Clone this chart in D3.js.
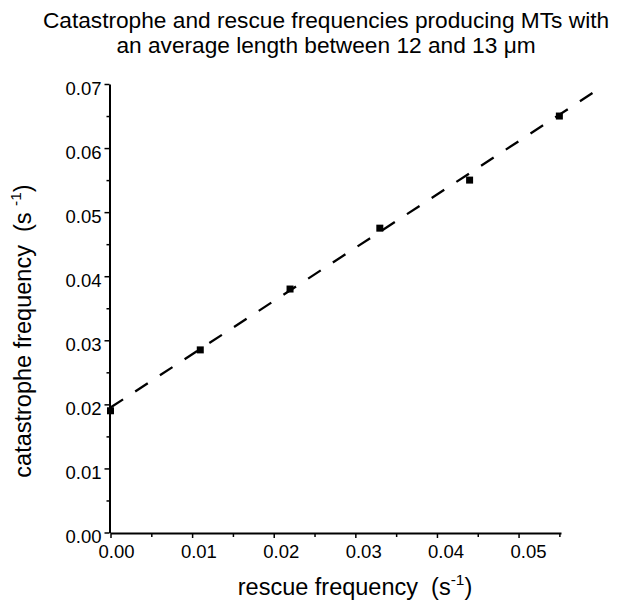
<!DOCTYPE html>
<html>
<head>
<meta charset="utf-8">
<script src="https://cdn.jsdelivr.net/npm/d3@7"></script>
<style>
  body { margin: 0; background: #fff; }
  text { font-family: "Liberation Sans", Arial, Helvetica, sans-serif; fill: #000; }
</style>
</head>
<body>
<svg id="chart" width="624" height="607"></svg>
<script>
// data
const rescue = [0, 0.011, 0.022, 0.033, 0.044, 0.055];
const catastrophe = [0.019, 0.0285, 0.038, 0.0475, 0.055, 0.065];
// dashed fit line end points
const fitRescue = [0, 0.0598];
const fitCatastrophe = [0.0195, 0.0692];

const xTicks = [0, 0.01, 0.02, 0.03, 0.04, 0.05];
const xMinor = [0.005, 0.015, 0.025, 0.035, 0.045, 0.055];
const yTicks = [0, 0.01, 0.02, 0.03, 0.04, 0.05, 0.06, 0.07];
const yMinor = [0.005, 0.015, 0.025, 0.035, 0.045, 0.055, 0.065];

const titleLines = [
  "Catastrophe and rescue frequencies producing MTs with",
  "an average length between 12 and 13 \u03bcm"
];

const svg = d3.select("#chart");

const x = d3.scaleLinear().domain([0, 0.0552]).range([110.5, 561]);
const y = d3.scaleLinear().domain([0, 0.07]).range([532.5, 84]);
// tick labels in the original sit on a slightly wider spacing than the ticks
const xLabel = d3.scaleLinear().domain([0, 0.05]).range([116.5, 528.5]);

// title
svg.append("g")
  .selectAll("text")
  .data(titleLines)
  .join("text")
  .attr("x", 326)
  .attr("y", (d, i) => 28 + i * 25)
  .attr("text-anchor", "middle")
  .attr("font-size", 22.7)
  .text(d => d);

// x axis
svg.append("g")
  .attr("transform", "translate(0,533)")
  .call(d3.axisBottom(x).tickValues(xTicks).tickSize(5).tickSizeOuter(0).tickFormat(""));
svg.append("g")
  .attr("transform", "translate(0,533)")
  .call(d3.axisBottom(x).tickValues(xMinor).tickSize(4).tickSizeOuter(0).tickFormat(""))
  .select(".domain").remove();
svg.append("g")
  .selectAll("text")
  .data(xTicks)
  .join("text")
  .attr("x", d => xLabel(d))
  .attr("y", 558)
  .attr("text-anchor", "middle")
  .attr("font-size", 18.5)
  .text(d => d3.format(".2f")(d));

// y axis
const yAxis = svg.append("g")
  .attr("transform", "translate(109.5,0)")
  .call(d3.axisLeft(y).tickValues(yTicks).tickSize(5).tickSizeOuter(0).tickPadding(3)
    .tickFormat(d3.format(".2f")));
yAxis.selectAll("text")
  .attr("dy", "0.56em")
  .attr("font-size", 18.5)
  .style("font-family", "\"Liberation Sans\", Arial, sans-serif");
svg.append("g")
  .attr("transform", "translate(109.5,0)")
  .call(d3.axisLeft(y).tickValues(yMinor).tickSize(3).tickSizeOuter(0).tickFormat(""))
  .select(".domain").remove();

svg.selectAll(".domain").attr("stroke-width", 2);
svg.selectAll(".tick line").attr("stroke-width", 1.5);

// fit line
svg.append("path")
  .datum(d3.zip(fitRescue, fitCatastrophe))
  .attr("fill", "none")
  .attr("stroke", "#000")
  .attr("stroke-width", 2.3)
  .attr("stroke-dasharray", "15,14.5")
  .attr("d", d3.line().x(d => x(d[0])).y(d => y(d[1])));

// points
const s = 7;
svg.append("g")
  .selectAll("rect")
  .data(d3.zip(rescue, catastrophe))
  .join("rect")
  .attr("x", d => x(d[0]) - s / 2)
  .attr("y", d => y(d[1]) - s / 2)
  .attr("width", s)
  .attr("height", s)
  .attr("fill", "#000");

// axis titles
const xt = svg.append("text")
  .attr("x", 355)
  .attr("y", 595)
  .attr("text-anchor", "middle")
  .attr("font-size", 23.5)
  .attr("xml:space", "preserve");
xt.append("tspan").text("rescue frequency  (s");
xt.append("tspan").attr("font-size", 15.5).attr("dy", -10).text("-1");
xt.append("tspan").attr("dy", 10).text(")");

const yt = svg.append("text")
  .attr("transform", "translate(31,331) rotate(-90)")
  .attr("text-anchor", "middle")
  .attr("font-size", 23.5)
  .attr("xml:space", "preserve");
yt.append("tspan").text("catastrophe frequency  (s ");
yt.append("tspan").attr("font-size", 15.5).attr("dy", -10).text("-1");
yt.append("tspan").attr("dy", 10).text(")");
</script>
</body>
</html>
